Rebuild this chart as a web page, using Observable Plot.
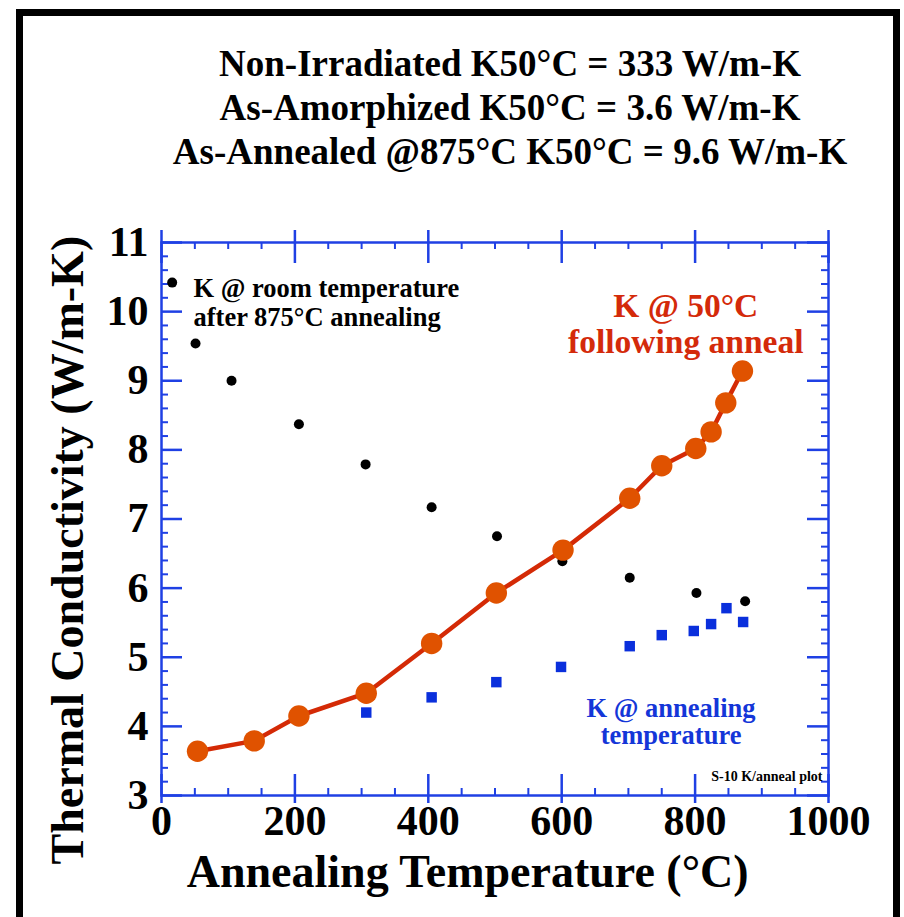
<!DOCTYPE html>
<html>
<head>
<meta charset="utf-8">
<script src="https://cdn.jsdelivr.net/npm/d3@7"></script>
<script src="https://cdn.jsdelivr.net/npm/@observablehq/plot@0.6"></script>
<style>
  html, body { margin: 0; padding: 0; background: #fff; }
  #wrap { position: relative; width: 904px; height: 917px; overflow: hidden; }
  #border { position: absolute; left: 16px; top: 9px; width: 884px; height: 1000px;
            box-sizing: border-box; border: 7px solid #000; pointer-events: none; }
  #chart { position: absolute; left: 0; top: 0; }
</style>
</head>
<body>
<div id="wrap"><div id="chart"></div><div id="border"></div></div>
<script>
// K at room temperature after annealing (black dots)
const roomT = [16, 51, 105, 206, 306, 405, 503, 601, 702, 802, 875];
const roomK = [10.42, 9.54, 9.00, 8.37, 7.79, 7.17, 6.75, 6.39, 6.15, 5.93, 5.81];
// K at annealing temperature (blue squares)
const annT = [307, 405, 502, 599, 702, 750, 798, 824, 847, 872];
const annK = [4.20, 4.42, 4.64, 4.86, 5.16, 5.32, 5.38, 5.48, 5.71, 5.51];
// K at 50°C following anneal (orange circles + red line)
const k50T = [54, 139, 206, 307, 405, 502, 602, 702, 750, 801, 824, 846, 871];
const k50K = [3.64, 3.79, 4.15, 4.48, 5.20, 5.93, 6.55, 7.30, 7.77, 8.02, 8.26, 8.68, 9.14];
// axis ticks
const majorX = [0, 200, 400, 600, 800, 1000];
const majorY = [3, 4, 5, 6, 7, 8, 9, 10, 11];
const minorX = d3.range(0, 1001, 50).filter(v => v % 200 !== 0);
const minorY = d3.range(30, 111, 2).filter(v => v % 10 !== 0).map(v => v / 10);
const titleLines = [
  "Non-Irradiated K50°C = 333 W/m-K",
  "As-Amorphized K50°C = 3.6 W/m-K",
  "As-Annealed @875°C K50°C = 9.6 W/m-K"
];

const room = roomT.map((t, i) => ({t, k: roomK[i]}));
const ann = annT.map((t, i) => ({t, k: annK[i]}));
const k50 = k50T.map((t, i) => ({t, k: k50K[i]}));

const BLUE = "#1f40e4";
const FONT = "'Liberation Serif', 'Times New Roman', serif";
const PW = 667, PH = 553;

const chart = Plot.plot({
  width: 904, height: 917,
  marginLeft: 161, marginRight: 76, marginTop: 242, marginBottom: 122,
  x: {domain: [0, 1000]},
  y: {domain: [3, 11]},
  style: {fontFamily: FONT, background: "transparent", color: "#000"},
  marks: [
    Plot.frame({stroke: BLUE, strokeWidth: 2.5}),
    // bottom/top major & minor ticks
    Plot.tickX(majorX, {x: d => d, stroke: BLUE, strokeWidth: 2.5, insetTop: PH - 21, insetBottom: -8}),
    Plot.tickX(majorX, {x: d => d, stroke: BLUE, strokeWidth: 2.5, insetTop: -12, insetBottom: PH - 21}),
    Plot.tickX(minorX, {x: d => d, stroke: BLUE, strokeWidth: 2, insetTop: PH - 7}),
    Plot.tickX(minorX, {x: d => d, stroke: BLUE, strokeWidth: 2, insetBottom: PH - 7}),
    // left/right ticks
    Plot.tickY(majorY, {y: d => d, stroke: BLUE, strokeWidth: 2.5, insetRight: PW - 21}),
    Plot.tickY(majorY, {y: d => d, stroke: BLUE, strokeWidth: 2.5, insetLeft: PW - 21}),
    Plot.tickY(minorY, {y: d => d, stroke: BLUE, strokeWidth: 2, insetRight: PW - 7}),
    Plot.tickY(minorY, {y: d => d, stroke: BLUE, strokeWidth: 2, insetLeft: PW - 7}),
    Plot.axisX({anchor: "bottom", ticks: majorX, tickSize: 0, tickPadding: 10, label: null,
      tickFormat: d => String(d), fontSize: 42, fontWeight: "bold", fontFamily: FONT}),
    Plot.axisY({anchor: "left", ticks: majorY, tickSize: 0, tickPadding: 13, label: null,
      tickFormat: d => String(d), fontSize: 42, fontWeight: "bold", fontFamily: FONT}),
    // data
    Plot.dot(room, {x: "t", y: "k", r: 5, fill: "#000", stroke: "none"}),
    Plot.dot(ann, {x: "t", y: "k", r: 5.9, symbol: "square", fill: "#0a2fdc", stroke: "none"}),
    Plot.line(k50, {x: "t", y: "k", curve: "linear", stroke: "#d42a06", strokeWidth: 4.5, strokeLinejoin: "round"}),
    Plot.dot(k50, {x: "t", y: "k", r: 10.7, fill: "#e05200", stroke: "none"}),
    // annotations
    Plot.text(["K @ room temperature\nafter 875°C annealing"], {x: 48, y: 9.79, text: d => d,
      textAnchor: "start", lineAnchor: "bottom", lineHeight: 1.1, fontSize: 26.5, fontWeight: "bold", fill: "#000", fontFamily: FONT}),
    Plot.text(["K @ 50°C\nfollowing anneal"], {x: 786, y: 9.40, text: d => d,
      textAnchor: "middle", lineAnchor: "bottom", lineHeight: 1.07, fontSize: 33.5, fontWeight: "bold", fill: "#d42a0a", fontFamily: FONT}),
    Plot.text(["K @ annealing\ntemperature"], {x: 764, y: 3.74, text: d => d,
      textAnchor: "middle", lineAnchor: "bottom", lineHeight: 1.05, fontSize: 26.5, fontWeight: "bold", fill: "#1436d8", fontFamily: FONT}),
    Plot.text(["S-10 K/anneal plot"], {x: 991, y: 3.21, text: d => d,
      textAnchor: "end", lineAnchor: "bottom", fontSize: 14, fontWeight: "bold", fill: "#000", fontFamily: FONT}),
    // axis titles
    Plot.text(["Annealing Temperature (°C)"], {x: 459, frameAnchor: "bottom", dy: 91, text: d => d,
      textAnchor: "middle", lineAnchor: "bottom", fontSize: 46, fontWeight: "bold", fill: "#000", fontFamily: FONT}),
    Plot.text(["Thermal Conductivity (W/m-K)"], {y: 6.55, frameAnchor: "left", dx: -79, rotate: -90, text: d => d,
      textAnchor: "middle", lineAnchor: "bottom", fontSize: 46, fontWeight: "bold", fill: "#000", fontFamily: FONT}),
    // chart title
    Plot.text([titleLines.join("\n")], {frameAnchor: "top", dx: 15, dy: -79, text: d => d,
      textAnchor: "middle", lineAnchor: "bottom", lineHeight: 1.176, fontSize: 37, fontWeight: "bold", fill: "#000", fontFamily: FONT})
  ]
});
document.getElementById("chart").appendChild(chart);
</script>
</body>
</html>
